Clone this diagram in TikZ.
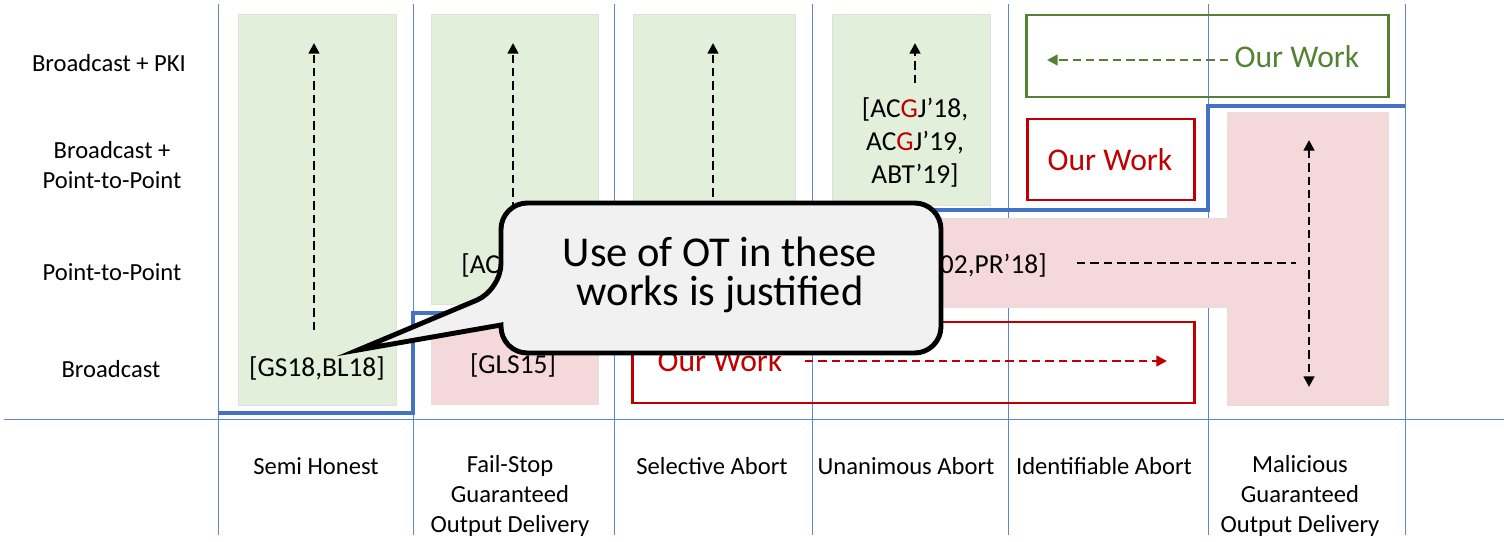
\documentclass[tikz,border=0pt]{standalone}
\usepackage{fontspec}
\setmainfont{Carlito}
\usepackage{xcolor}
\usetikzlibrary{arrows.meta}

\definecolor{gridblue}{HTML}{4472C4}
\definecolor{okgreen}{HTML}{E2EFDA}
\definecolor{badpink}{HTML}{F5D8DA}
\definecolor{ourred}{HTML}{C00000}
\definecolor{ourgreen}{HTML}{548235}
\definecolor{calloutgray}{HTML}{F1F1F1}

\tikzset{
  grid/.style={gridblue!85, line width=0.5pt},
  okbox/.style={fill=okgreen, draw=black!12, line width=0.4pt},
  badbox/.style={fill=badpink, draw=black!12, line width=0.4pt},
  redbox/.style={draw=ourred, line width=1.7pt},
  greenbox/.style={draw=ourgreen, line width=1.7pt},
  bound/.style={gridblue, line width=2.3pt},
  dashline/.style={line width=1.4pt, dash pattern=on 4.8pt off 2.8pt},
  upward/.style={dashline, -{Triangle[length=6pt,width=6pt]}},
  lbl/.style={font=\fontsize{14}{17}\selectfont, align=center, inner sep=0pt},
  refs/.style={font=\fontsize{15.6}{18.8}\selectfont, align=center, inner sep=0pt},
  ourwork/.style={font=\fontsize{18}{21}\selectfont, inner sep=0pt}
}

\begin{document}
\begin{tikzpicture}[x=0.02cm, y=-0.02cm]
  \useasboundingbox (0,0) rectangle (1504,541);

  % grid lines
  \foreach \x in {218,413,614,812,1008,1208,1405}
    \draw[grid] (\x,4) -- (\x,535);
  \draw[grid] (4,419) -- (1504,419);

  % what is feasible / not feasible
  \path[okbox] (238,14) rectangle (396,405);
  \path[okbox] (431,14) rectangle (598,304);
  \path[badbox] (431,312) rectangle (598,404);
  \path[okbox] (633,14) rectangle (795,304);
  \path[okbox] (832,14) rectangle (990,205);
  \path[badbox] (832,218) -- (1227,218) -- (1227,112) -- (1388,112)
     -- (1388,405) -- (1227,405) -- (1227,307) -- (832,307) -- cycle;

  % our results
  \draw[greenbox] (1026,15) rectangle (1388,97);
  \draw[redbox] (1027,119) rectangle (1194,200);
  \draw[redbox] (632,322) rectangle (1194,403);

  % round boundary
  \draw[bound] (218,413) -- (413,413) -- (413,313) -- (812,313) -- (812,210)
     -- (1208,210) -- (1208,106) -- (1405,106);

  % row labels
  \node[lbl] (pki) at (109,63) {Broadcast + PKI};
  \node[lbl] (bcp2p) at (112,165) {Broadcast +\\Point-to-Point};
  \node[lbl] (p2p) at (112,272) {Point-to-Point};
  \node[lbl] (bc) at (111,369) {Broadcast};

  % column labels
  \node[lbl] (semi) at (316,466) {Semi Honest};
  \node[lbl] (failstop) at (510,496) {Fail-Stop\\Guaranteed\\Output Delivery};
  \node[lbl] (selective) at (712,466) {Selective Abort};
  \node[lbl] (unanimous) at (906,466) {Unanimous Abort};
  \node[lbl] (identifiable) at (1104,466) {Identifiable Abort};
  \node[lbl] (malicious) at (1300,496) {Malicious\\Guaranteed\\Output Delivery};

  % references
  \node[refs] (gsbl) at (317,368) {[GS18,BL18]};
  \node[refs] (gls) at (513,365) {[GLS15]};
  \node[refs] (acgj) at (915,142) {[AC\textcolor{ourred}{G}J'18,\\AC\textcolor{ourred}{G}J'19,\\ABT'19]};
  \node[refs, anchor=west] (acleft) at (461,265) {[AC};
  \node[refs, anchor=east] (prright) at (1047,265) {02,PR'18]};

  % our work labels
  \node[ourwork, text=ourgreen] (owpki) at (1297,57) {Our Work};
  \node[ourwork, text=ourred] (owbcp2p) at (1110,160) {Our Work};
  \node[ourwork, text=ourred] (owbc) at (720,361) {Our Work};

  % implications
  \foreach \x/\lo [count=\i] in {314/330,513/250,713/250,915/83} {
    \coordinate (lo\i) at (\x,\lo);
    \coordinate (hi\i) at (\x,43);
    \draw[upward] (lo\i) -- (hi\i);
  }
  \coordinate (pkifrom) at (1228,60);
  \coordinate (pkito) at (1047,60);
  \draw[upward, ourgreen] (pkifrom) -- (pkito);
  \coordinate (bcfrom) at (805,361);
  \coordinate (bcto) at (1167,361);
  \draw[upward, ourred] (bcfrom) -- (bcto);
  \coordinate (tfrom) at (1077,263);
  \coordinate (tto) at (1296,263);
  \draw[dashline] (tfrom) -- (tto);
  \coordinate (tup) at (1309,140);
  \coordinate (tdown) at (1309,387);
  \draw[dashline, {Triangle[length=6pt,width=6pt]}-{Triangle[length=6pt,width=6pt]}] (tup) -- (tdown);

  % callout
  \draw[fill=calloutgray, line width=2.8pt, line join=miter]
    (720,203) [rounded corners=15pt] -- (501,203) -- (501,290) [sharp corners]
    -- (358,350) -- (501,325) [rounded corners=15pt] -- (501,353) -- (941,353)
    -- (941,203) -- cycle;
  \node[font=\fontsize{24.2}{22.6}\selectfont, align=center, inner sep=0pt] (ot) at (720,275)
    {Use of OT in these\\works is justified};
\end{tikzpicture}
\end{document}
